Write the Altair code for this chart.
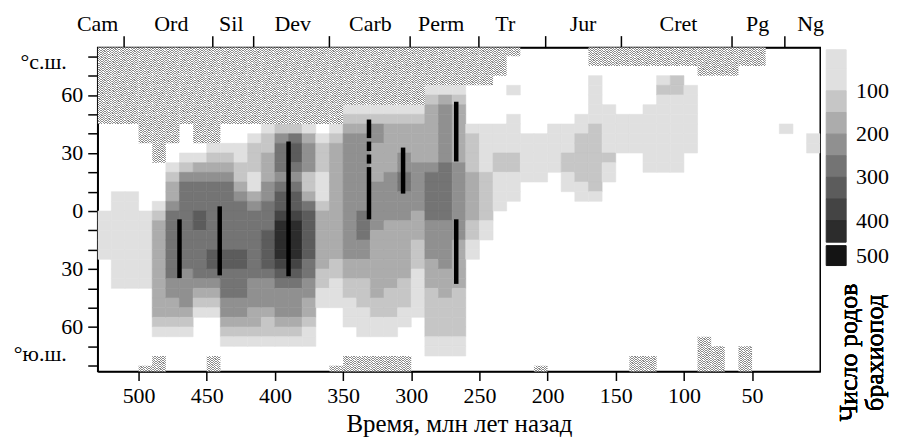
import altair as alt
import pandas as pd

FONT = "Liberation Serif"

# ---------------- data ----------------
# time bins (Myr ago), 10-Myr wide, centres
times = [525, 515, 505, 495, 485, 475, 465, 455, 445, 435, 425, 415, 405, 395,
         385, 375, 365, 355, 345, 335, 325, 315, 305, 295, 285, 275, 265, 255,
         245, 235, 225, 215, 205, 195, 185, 175, 165, 155, 145, 135, 125, 115,
         105, 95, 85, 75, 65, 55, 45, 35, 25, 15, 5]

# latitude bins, 5 degrees wide, centres from north to south
lat_centers = [82.5, 77.5, 72.5, 67.5, 62.5, 57.5, 52.5, 47.5, 42.5, 37.5,
               32.5, 27.5, 22.5, 17.5, 12.5, 7.5, 2.5, -2.5, -7.5, -12.5,
               -17.5, -22.5, -27.5, -32.5, -37.5, -42.5, -47.5, -52.5, -57.5,
               -62.5, -67.5, -72.5, -77.5, -82.5]

# one string per time bin, one character per latitude bin (north -> south)
# 0 = no genera, 1..9 = genus-count class, h = hatched (no data)
columns = [
    "hhhhhhhh" "000000000" "11111",                                   # 525
    "hhhhhhhh" "0000000" "1111111111",                                # 515
    "hhhhhhhh" "0000000" "1111111111",                                # 505
    "hhhhhhhhhh" "0000000" "11111111" "00000000" "h",                 # 495
    "hhhhhhhhhhhh" "0000" "12" "3333333333" "21" "00" "hh",           # 485
    "hhhhhhhhhh" "00" "12" "33" "4" "5555555" "44" "33" "21",         # 475
    "hhhhhhhh" "000" "124" "555555555" "4444" "321",                  # 465
    "hhhhhhhhhh" "0134" "555" "66" "55555" "4321",                    # 455
    "hhhhhhhhhh" "1234" "5555555" "66" "54321" "0000" "hh",           # 445
    "hhhhhhhh" "00" "1234" "5555555" "66" "555" "44" "321",           # 435
    "hhhhhhhh" "00" "1122" "34" "55555" "66" "555" "44" "321",        # 425
    "hhhhhhhh" "01" "222" "11" "34" "5555555" "444" "33" "21",        # 415
    "hhhhhhhh" "1" "22" "333" "44" "555" "6666" "5" "444" "3" "22" "1",  # 405
    "hhhhhhhh" "24" "555" "45" "66" "7" "8888" "765" "444" "321",     # 395
    "hhhhhhhh" "25" "66" "545" "66" "7" "8888" "765" "444" "321",     # 385
    "hhhhhhhh" "13" "444" "22" "35" "66666" "55" "44" "33" "2" "11",  # 375
    "hhhhhhhh" "01" "222" "111" "2" "333333" "22" "11",               # 365
    "hhhhhhhh" "12" "333333333333" "22" "111" "000000" "h",           # 355
    "hhhhhh" "123" "4444444444444" "33" "22" "111" "000" "hh",        # 345
    "hhhhhh" "123" "44444444" "555" "44" "33" "222" "111" "00" "hh",  # 335
    "hhhhhh" "12" "44" "3333" "44444" "3333333" "22" "11" "00" "hh",  # 325
    "hhhhhh" "12" "33333" "44444" "3333333" "222" "11" "00" "hh",     # 315
    "hhhhhh" "12" "333" "44" "55" "444" "333333" "222" "11" "000" "hh",  # 305
    "hhhhhh" "12" "3333" "44444" "333" "222" "11111",                 # 295
    "hhhh" "12" "333333" "4" "55555" "4444" "333" "22222" "11",       # 285
    "hhhh" "13" "444444" "555555" "44444" "333" "2222" "11",          # 275
    "hhhh" "12" "333333" "44444444" "33333" "22222" "11",             # 265
    "hhhh" "0000" "1" "2222" "33333" "22" "11",                       # 255
    "hhhh" "0000" "11111" "22222" "11",                               # 245
    "hhh" "00000" "111" "22" "1111",                                  # 235
    "h" "000" "1" "00" "1111" "22" "111",                             # 225
    "000000000" "11111",                                              # 215
    "000000000" "11111" "0000000000" "000000000" "h",                 # 205
    "00000000" "11111",                                               # 195
    "00000000" "111" "22" "11",                                       # 185
    "0000000" "11" "22222" "11",                                      # 175
    "hh" "0" "11111" "2222222" "1",                                   # 165
    "hh" "0000" "11111" "2" "11",                                     # 155
    "hh" "00000" "1111",                                              # 145
    "hh" "00000" "1111" "0000000000" "0000000000" "0" "hh",           # 135
    "hh" "0000" "1111111" "0000000000" "000000000" "hh",              # 125
    "hh" "0" "12" "11111111",                                         # 115
    "hh" "0" "22" "11111111",                                         # 105
    "hh" "00" "1111111",                                              # 95
    "hhh" "0000000000" "0000000000" "0000000" "hhhh",                 # 85
    "hhh" "0000000000" "0000000000" "00000000" "hhh",                 # 75
    "hhh",                                                            # 65
    "hh" "0000000000" "0000000000" "000000000" "hhh",                 # 55
    "hh",                                                             # 45
    "",                                                               # 35
    "00000000" "1",                                                   # 25
    "",                                                               # 15
    "000000000" "11",                                                 # 5
]

gray_levels = ["1", "2", "3", "4", "5", "6", "7", "8", "9"]
gray_colors = ["#e0e0e0", "#c6c6c6", "#acacac", "#909090", "#747474",
               "#5c5c5c", "#444444", "#2c2c2c", "#141414"]

# black vertical bars (time, top latitude, bottom latitude)
bar_time = [470, 440.5, 390, 331, 331, 331, 331, 306, 267, 267]
bar_top = [-4.3, 2.4, 36.0, 47.3, 35.9, 29.2, 22.7, 32.8, 56.5, -4.3]
bar_bottom = [-34.7, -33.3, -33.7, 37.7, 31.0, 24.5, -4.3, 9.0, 25.6, -37.7]

# geological periods (top axis)
period_names = ["Cam", "Ord", "Sil", "Dev", "Carb", "Perm", "Tr", "Jur",
                "Cret", "Pg", "Ng"]
period_pos = [530, 476, 432, 387, 330, 278, 231, 174, 104, 46, 7]
period_bounds = [511, 446, 416, 360.5, 301.5, 251, 201.5, 146, 65, 26]

x_ticks = [500, 450, 400, 350, 300, 250, 200, 150, 100, 50]
y_ticks = [-80, -70, -60, -50, -40, -30, -20, -10, 0, 10, 20, 30, 40, 50,
           60, 70, 80]

hemi_labels = ["°с.ш.", "°ю.ш."]
hemi_lat = [77.2, -73.9]

# legend
legend_codes = ["0", "1", "2", "3", "4", "5", "6", "7", "8", "9"]
legend_lo = [5, 50, 100, 150, 200, 250, 300, 350, 400, 458]
legend_hi = [50, 100, 150, 200, 250, 300, 350, 400, 450, 504]
legend_fill = ["#ffffff"] + gray_colors
legend_stroke = ["#9a9a9a"] + gray_colors
legend_tick_pos = [100, 200, 300, 400, 481]
legend_tick_text = ["100", "200", "300", "400", "500"]
legend_title = ["Число родов", "брахиопод"]

# ---------------- tables ----------------
cell_rows, hatch_rows = [], []
for t, col in zip(times, columns):
    col = col.ljust(len(lat_centers), "0")[:len(lat_centers)]
    for lat, code in zip(lat_centers, col):
        if code == "0":
            continue
        row = dict(t0=t + 5, t1=t - 5, lat0=lat + 2.5, lat1=lat - 2.5, code=code)
        (hatch_rows if code == "h" else cell_rows).append(row)
cell_df = pd.DataFrame(cell_rows)
hatch_df = pd.DataFrame(hatch_rows)
bar_df = pd.DataFrame(dict(t=bar_time, top=bar_top, bottom=bar_bottom))
period_df = pd.DataFrame(dict(name=period_names, pos=period_pos))
hemi_df = pd.DataFrame(dict(label=hemi_labels, lat=hemi_lat))
legend_df = pd.DataFrame(dict(code=legend_codes, lo=legend_lo, hi=legend_hi))
legend_lab_df = pd.DataFrame(dict(v=legend_tick_pos, label=legend_tick_text))

# ---------------- styles ----------------
stops = []
n_str = 10
for k in range(n_str):
    stops += [alt.GradientStop(color="#8c8c8c", offset=k / n_str),
              alt.GradientStop(color="#8c8c8c", offset=(k + 0.5) / n_str),
              alt.GradientStop(color="#ffffff", offset=(k + 0.5) / n_str),
              alt.GradientStop(color="#ffffff", offset=(k + 1) / n_str)]
hatch_fill = alt.LinearGradient(gradient="linear", stops=stops, x1=0, y1=0, x2=1, y2=1)

x_scale = alt.Scale(domain=[0, 530], reverse=True, nice=False, zero=False)
y_scale = alt.Scale(domain=[-83, 84.5], nice=False, zero=False)

bottom_axis = alt.Axis(values=x_ticks, format="d", tickSize=9, tickWidth=1.5,
                       tickColor="black", labelFont=FONT, labelFontSize=22,
                       labelColor="black", labelPadding=5, domainColor="black",
                       domainWidth=1.5, grid=False, labelFlush=False,
                       title="Время, млн лет назад", titleFont=FONT,
                       titleFontSize=25, titleFontWeight="normal",
                       titleColor="black", titlePadding=5)
left_axis = alt.Axis(values=y_ticks,
                     labelExpr="datum.value % 30 === 0 ? '' + abs(datum.value) : ''",
                     tickSize=10, tickWidth=1.5, tickColor="black",
                     labelFont=FONT, labelFontSize=22, labelColor="black",
                     labelPadding=5, domainColor="black", domainWidth=1.5,
                     grid=False, title=None, labelFlush=False)
top_axis = alt.Axis(orient="top", values=period_bounds, labels=False,
                    tickSize=12, tickWidth=1.5, tickColor="black",
                    domainColor="black", domainWidth=1.5, grid=False, title=None)

cells = alt.Chart(cell_df).mark_rect(clip=True, strokeWidth=0.6).encode(
    x=alt.X("t0:Q", scale=x_scale, axis=bottom_axis),
    x2="t1:Q",
    y=alt.Y("lat0:Q", scale=y_scale, axis=left_axis),
    y2="lat1:Q",
    color=alt.Color("code:N", scale=alt.Scale(domain=gray_levels, range=gray_colors), legend=None),
    stroke=alt.Stroke("code:N", scale=alt.Scale(domain=gray_levels, range=gray_colors), legend=None),
)

hatch = alt.Chart(hatch_df).mark_rect(clip=True, fill=hatch_fill).encode(
    x=alt.X("t0:Q", scale=x_scale, axis=None),
    x2="t1:Q",
    y=alt.Y("lat0:Q", scale=y_scale, axis=left_axis),
    y2="lat1:Q",
)

bars = alt.Chart(bar_df).mark_rule(color="black", strokeWidth=4.5, strokeCap="butt").encode(
    x=alt.X("t:Q", scale=x_scale, axis=None),
    y=alt.Y("top:Q", scale=y_scale, axis=left_axis),
    y2="bottom:Q",
)

hemi = alt.Chart(hemi_df).mark_text(align="right", baseline="middle", font=FONT,
                                    fontSize=22, color="black").encode(
    x=alt.value(-31),
    y=alt.Y("lat:Q", scale=y_scale, axis=left_axis),
    text="label:N",
)

periods = alt.Chart(period_df).mark_text(align="center", baseline="alphabetic",
                                         font=FONT, fontSize=22, color="black").encode(
    x=alt.X("pos:Q", scale=x_scale, axis=top_axis),
    y=alt.value(-17),
    text="name:N",
)

main = alt.layer(cells, hatch, bars, hemi, periods).resolve_axis(
    x="independent"
).properties(width=725, height=325,
             view=alt.ViewBackground(stroke="black", strokeWidth=1.5))

leg_scale = alt.Scale(domain=[0, 749], reverse=True, nice=False, zero=False)
leg_rects = alt.Chart(legend_df).mark_rect(strokeWidth=1).encode(
    x=alt.value(0), x2=alt.value(20),
    y=alt.Y("lo:Q", scale=leg_scale, axis=None), y2="hi:Q",
    color=alt.Color("code:N", scale=alt.Scale(domain=legend_codes, range=legend_fill), legend=None),
    stroke=alt.Stroke("code:N", scale=alt.Scale(domain=legend_codes, range=legend_stroke), legend=None),
)
leg_labels = alt.Chart(legend_lab_df).mark_text(align="left", baseline="middle", font=FONT,
                                                fontSize=22, color="black").encode(
    x=alt.value(30),
    y=alt.Y("v:Q", scale=leg_scale, axis=None),
    text="label:N",
)
leg_title = alt.Chart(legend_lab_df).mark_text(angle=270, align="center", baseline="middle",
                                               font=FONT, fontSize=26, lineHeight=26,
                                               color="black").encode(
    x=alt.value(23), y=alt.value(306), text=alt.value(legend_title),
)
legend = alt.layer(leg_rects, leg_labels, leg_title).properties(
    width=20, height=325, view=alt.ViewBackground(strokeOpacity=0)
)

chart = alt.hconcat(main, legend, spacing=6, bounds="flush").properties(
    padding={"left": 5, "top": 3, "right": 0, "bottom": 0}
).configure(background="white")

chart.save("out.html", embed_options={"renderer": "svg", "actions": False})
